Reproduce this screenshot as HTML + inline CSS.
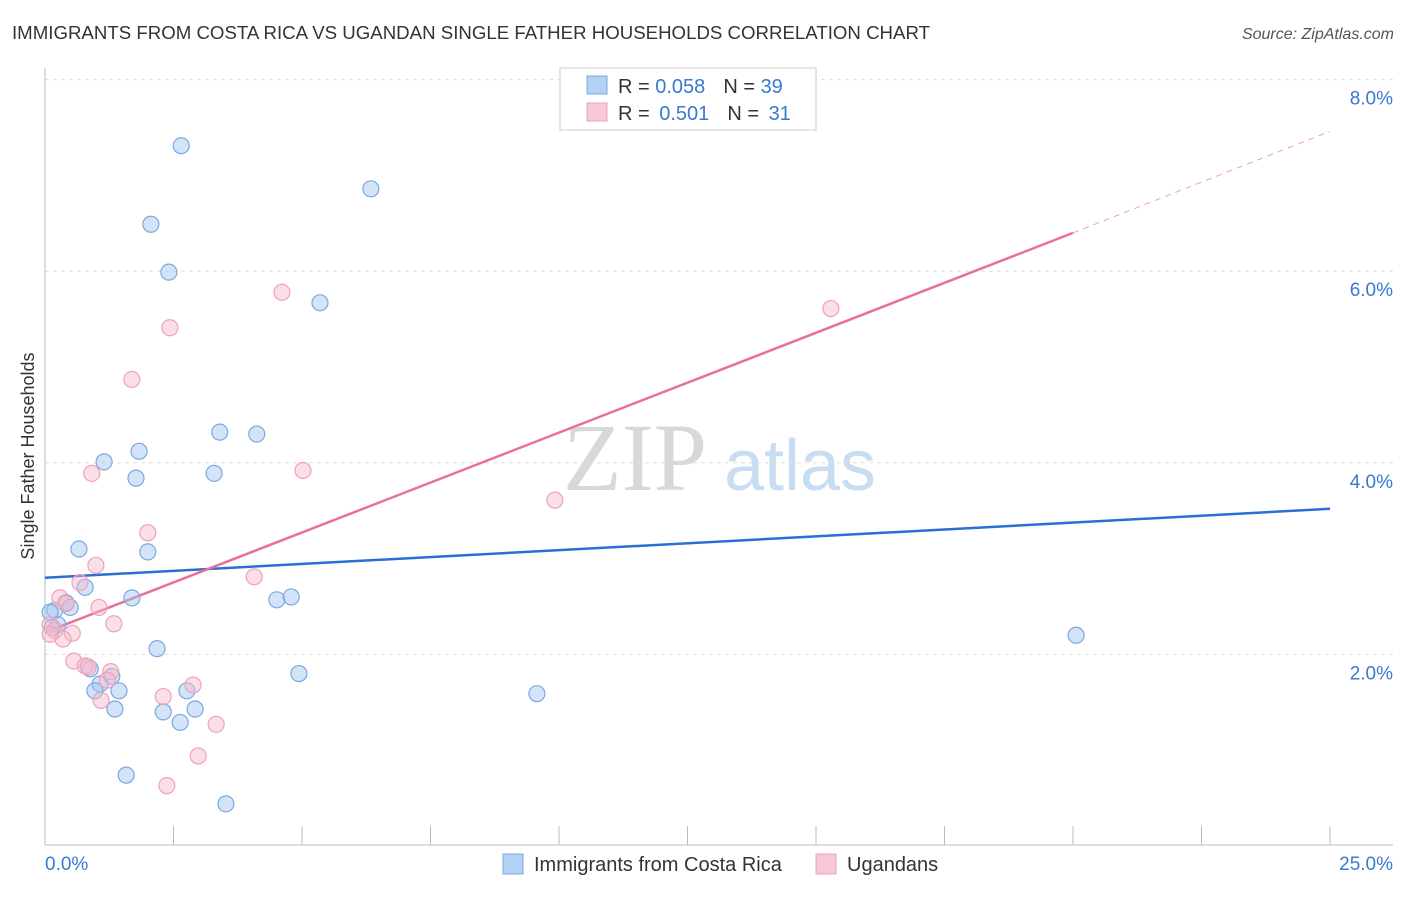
<!DOCTYPE html>
<html><head><meta charset="utf-8"><style>
body{margin:0;background:#fff;font-family:"Liberation Sans",sans-serif;}
</style></head><body>
<svg id="chart" width="1406" height="892" xmlns="http://www.w3.org/2000/svg" style="font-family:'Liberation Sans',sans-serif">
<text x="12" y="39" font-size="18" fill="#333" textLength="918" lengthAdjust="spacingAndGlyphs">IMMIGRANTS FROM COSTA RICA VS UGANDAN SINGLE FATHER HOUSEHOLDS CORRELATION CHART</text>
<text x="1394" y="39" font-size="16" fill="#555" font-style="italic" text-anchor="end">Source: ZipAtlas.com</text>
<g>
<text x="635" y="490" font-size="96" fill="#d8d8d8" font-family="'Liberation Serif',serif" text-anchor="middle">ZIP</text>
<text x="800" y="490" font-size="72" fill="#c8dcf2" text-anchor="middle">atlas</text>
</g>
<g id="grid"></g><g id="axes"></g><g id="lines"></g><g id="points"></g>
<text transform="translate(34,456) rotate(-90)" font-size="18" fill="#333" text-anchor="middle">Single Father Households</text>
<g>
<rect x="560" y="68" width="256" height="62" fill="#fff" stroke="#ccc"/>
<rect x="587" y="76" width="20" height="18" fill="#b4d0f4" stroke="#7aa8e0"/>
<rect x="587" y="103" width="20" height="18" fill="#f9c8d6" stroke="#f0a0b8"/>
<text x="618" y="93" font-size="20" fill="#333">R = <tspan fill="#3b78d0">0.058</tspan><tspan dx="18">N = </tspan><tspan fill="#3b78d0">39</tspan></text>
<text x="618" y="120" font-size="20" fill="#333">R = <tspan fill="#3b78d0" dx="4">0.501</tspan><tspan dx="18">N = </tspan><tspan fill="#3b78d0" dx="4">31</tspan></text>
</g>
<g>
<rect x="503" y="854" width="20" height="20" fill="#b4d0f4" stroke="#7aa8e0"/>
<text x="534" y="871" font-size="20" fill="#333">Immigrants from Costa Rica</text>
<rect x="816" y="854" width="20" height="20" fill="#f9c8d6" stroke="#f0a0b8"/>
<text x="847" y="871" font-size="20" fill="#333">Ugandans</text>
</g>
</svg>
<script>
const blueX=[2.65,2.06,2.41,6.34,5.35,3.40,4.12,1.83,1.15,1.77,3.29,0.66,2.00,0.78,1.69,4.51,4.79,0.41,0.49,0.19,0.10,0.25,0.14,2.18,0.88,1.30,1.07,0.97,1.44,2.76,4.94,1.36,2.30,2.92,2.63,9.57,1.58,3.52,20.06];
const blueY=[7.31,6.49,5.99,6.86,5.67,4.32,4.30,4.12,4.01,3.84,3.89,3.10,3.07,2.70,2.59,2.57,2.60,2.54,2.49,2.46,2.44,2.31,2.28,2.06,1.85,1.77,1.69,1.62,1.62,1.62,1.80,1.43,1.40,1.43,1.29,1.59,0.74,0.44,2.20];
const pinkX=[4.61,2.43,1.69,15.29,0.91,5.02,9.92,2.00,0.99,4.07,0.68,0.29,1.05,0.41,1.34,0.10,0.19,0.53,0.35,0.56,0.78,0.84,1.28,1.21,2.30,2.88,1.09,3.33,2.98,2.37,0.10];
const pinkY=[5.78,5.41,4.87,5.61,3.89,3.92,3.61,3.27,2.93,2.81,2.75,2.59,2.49,2.53,2.32,2.31,2.25,2.22,2.16,1.93,1.88,1.87,1.82,1.73,1.56,1.68,1.52,1.27,0.94,0.63,2.21];
const blueTrend=[2.80,3.52];
const pinkTrend=[2.23,6.40,7.46];
const yTicks=[2,4,6,8];
const yTickLabels=["2.0%","4.0%","6.0%","8.0%"];
const xTicks=[0,2.5,5,7.5,10,12.5,15,17.5,20,22.5,25];
const NS="http://www.w3.org/2000/svg";
const sx=v=>45+v/25*1285, sy=v=>846-v*95.8;
function mk(g,tag,a){const e=document.createElementNS(NS,tag);for(const k in a)e.setAttribute(k,a[k]);document.getElementById(g).appendChild(e);return e;}
yTicks.forEach((t,i)=>{
 const l=mk('grid','line',{x1:45,x2:1393,y1:sy(t),y2:sy(t),stroke:'#ddd','stroke-dasharray':'4,4'});
 
 
 const tx=mk('axes','text',{x:1393,y:sy(t)+25,'font-size':19,fill:'#3b78d0','text-anchor':'end'});
 tx.textContent=yTickLabels[i];
 
 
});
let a=mk('axes','line',{x1:45,x2:45,y1:68,y2:845,stroke:'#bbb'});


a=mk('axes','line',{x1:45,x2:1393,y1:845,y2:845,stroke:'#bbb'});


xTicks.forEach(t=>{const l=mk('axes','line',{x1:sx(t),x2:sx(t),y1:826,y2:845,stroke:'#bbb'});
 
 });
let t0=mk('axes','text',{x:45,y:870,'font-size':19,fill:'#3b78d0'});t0.textContent='0.0%';


let t1=mk('axes','text',{x:1393,y:870,'font-size':19,fill:'#3b78d0','text-anchor':'end'});t1.textContent='25.0%';


let bl=mk('lines','line',{x1:sx(0),y1:sy(blueTrend[0]),x2:sx(25),y2:sy(blueTrend[1]),stroke:'#2a6fd6','stroke-width':2.5});


let pl=mk('lines','line',{x1:sx(0),y1:sy(pinkTrend[0]),x2:sx(20),y2:sy(pinkTrend[1]),stroke:'#e8709a','stroke-width':2.5});


let pd=mk('lines','line',{x1:sx(20),y1:sy(pinkTrend[1]),x2:sx(25),y2:sy(pinkTrend[2]),stroke:'#e8a0b8','stroke-width':1,'stroke-dasharray':'6,5'});


blueX.forEach((x,i)=>{const c=mk('points','circle',{cx:sx(x),cy:sy(blueY[i]),r:8,fill:'rgba(160,196,240,0.45)',stroke:'#7aa8e0','stroke-width':1.2});
 
 });
pinkX.forEach((x,i)=>{const c=mk('points','circle',{cx:sx(x),cy:sy(pinkY[i]),r:8,fill:'rgba(246,184,204,0.45)',stroke:'#f0a0b8','stroke-width':1.2});
 
 });
</script>
</body></html>
